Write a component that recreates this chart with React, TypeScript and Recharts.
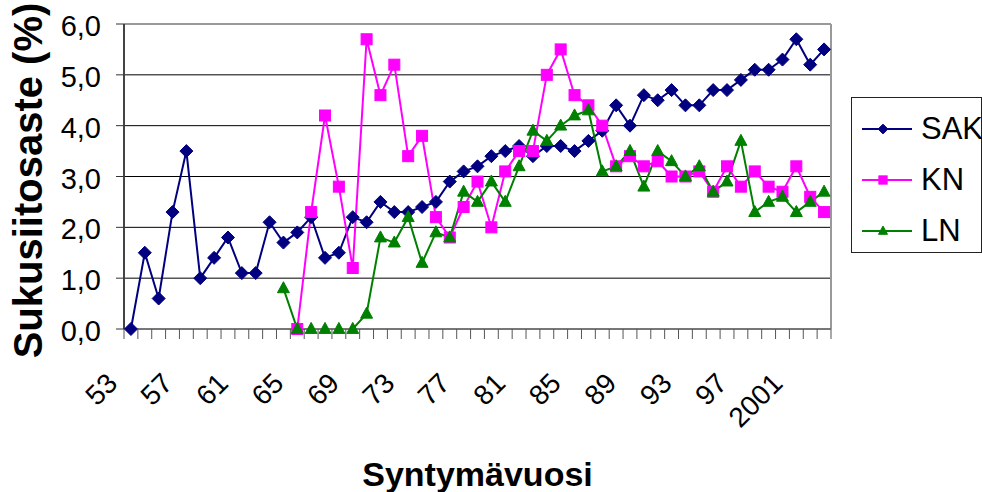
import React from 'react';
import { LineChart, Line, XAxis, YAxis, CartesianGrid } from 'recharts';

const YEARS = [
  '53', '54', '55', '56', '57', '58', '59', '60', '61', '62', '63', '64', '65', '66', '67', '68', '69',
  '70', '71', '72', '73', '74', '75', '76', '77', '78', '79', '80', '81', '82', '83', '84', '85', '86',
  '87', '88', '89', '90', '91', '92', '93', '94', '95', '96', '97', '98', '99', '2000', '2001', '2002', '2003',
];
const X_LABELS = ['53', '57', '61', '65', '69', '73', '77', '81', '85', '89', '93', '97', '2001'];
const Y_TICKS = [0, 1, 2, 3, 4, 5, 6];

const SAK = [
  0.0, 1.5, 0.6, 2.3, 3.5, 1.0, 1.4, 1.8, 1.1, 1.1, 2.1, 1.7, 1.9, 2.2, 1.4, 1.5, 2.2,
  2.1, 2.5, 2.3, 2.3, 2.4, 2.5, 2.9, 3.1, 3.2, 3.4, 3.5, 3.6, 3.4, 3.6, 3.6, 3.5, 3.7,
  3.9, 4.4, 4.0, 4.6, 4.5, 4.7, 4.4, 4.4, 4.7, 4.7, 4.9, 5.1, 5.1, 5.3, 5.7, 5.2, 5.5,
];
const KN = [
  null, null, null, null, null, null, null, null, null, null, null, null,
  0.0, 2.3, 4.2, 2.8, 1.2, 5.7, 4.6, 5.2, 3.4, 3.8, 2.2, 1.8, 2.4, 2.9, 2.0, 3.1, 3.5,
  3.5, 5.0, 5.5, 4.6, 4.4, 4.0, 3.2, 3.4, 3.2, 3.3, 3.0, 3.0, 3.1, 2.7, 3.2, 2.8, 3.1,
  2.8, 2.7, 3.2, 2.6, 2.3,
];
const LN = [
  null, null, null, null, null, null, null, null, null, null, null,
  0.8, 0.0, 0.0, 0.0, 0.0, 0.0, 0.3, 1.8, 1.7, 2.2, 1.3, 1.9, 1.8, 2.7, 2.5, 2.9, 2.5,
  3.2, 3.9, 3.7, 4.0, 4.2, 4.3, 3.1, 3.2, 3.5, 2.8, 3.5, 3.3, 3.0, 3.2, 2.7, 2.9, 3.7,
  2.3, 2.5, 2.6, 2.3, 2.5, 2.7,
];

const SERIES = [
  { key: 'SAK', color: '#000080', shape: 'diamond' },
  { key: 'KN', color: '#FF00FF', shape: 'square' },
  { key: 'LN', color: '#008000', shape: 'triangle' },
];

const data = YEARS.map((year, i) => ({ year, SAK: SAK[i], KN: KN[i], LN: LN[i] }));

const W = 982;
const H = 492;
const M = { top: 24, right: 151, bottom: 0, left: 0 };
const Y_AXIS_W = 124;
const X_AXIS_H = 163;
const PLOT_W = W - M.right - Y_AXIS_W;
const BAND = PLOT_W / YEARS.length;
const FONT = '"Liberation Sans", Arial, sans-serif';

const Marker = ({ cx, cy, shape, color, s = 1 }: any) => {
  if (cx == null || cy == null) return <g />;
  if (shape === 'diamond') {
    const r = 6.5 * s;
    return <polygon points={`${cx},${cy - r} ${cx + r},${cy} ${cx},${cy + r} ${cx - r},${cy}`} fill={color} stroke={color} strokeWidth={1} />;
  }
  if (shape === 'square') {
    const r = 5.5 * s;
    return <rect x={cx - r} y={cy - r} width={2 * r} height={2 * r} fill={color} stroke={color} strokeWidth={1} />;
  }
  const w = 6 * s;
  const h = 11 * s;
  return <polygon points={`${cx},${cy - h * 0.6} ${cx + w},${cy + h * 0.4} ${cx - w},${cy + h * 0.4}`} fill={color} stroke={color} strokeWidth={1} />;
};

const XTick = (props: any) => {
  const { x, y, payload } = props;
  const idx = props.index ?? payload.index;
  const half = BAND / 2;
  const show = X_LABELS.includes(payload.value);
  const ax = x - 12;
  const ay = y + 56;
  return (
    <g>
      {idx === 0 && <line x1={x - half} y1={y} x2={x - half} y2={y + 10} stroke="#555" strokeWidth={1} />}
      <line x1={x + half} y1={y} x2={x + half} y2={y + 10} stroke="#555" strokeWidth={1} />
      {show && (
        <text x={ax} y={ay} textAnchor="end" transform={`rotate(-45, ${ax}, ${ay})`} fontSize={28} fontFamily={FONT} fill="#000">
          {payload.value}
        </text>
      )}
    </g>
  );
};

const YTick = (props: any) => {
  const { x, y, payload } = props;
  return (
    <text x={x} y={y + 12} textAnchor="end" fontSize={29} fontFamily={FONT} fill="#000">
      {Number(payload.value).toFixed(1).replace('.', ',')}
    </text>
  );
};

const Legend = () => (
  <div
    style={{
      position: 'absolute', left: 851, top: 97, width: 131, height: 156, boxSizing: 'border-box',
      border: '1px solid #222', background: '#fff', fontFamily: FONT,
    }}
  >
    {SERIES.map((s, i) => (
      <div key={s.key} style={{ position: 'absolute', left: 9, top: 13 + i * 51, height: 36, display: 'flex', alignItems: 'center' }}>
        <svg width={52} height={20}>
          <line x1={1} y1={10} x2={51} y2={10} stroke={s.color} strokeWidth={2} />
          <Marker cx={22} cy={10} shape={s.shape} color={s.color} s={0.75} />
        </svg>
        <span style={{ fontSize: 31, marginLeft: 8, lineHeight: '36px', color: '#000' }}>{s.key}</span>
      </div>
    ))}
  </div>
);

export default function App() {
  return (
    <div style={{ position: 'absolute', left: 0, top: 0, width: W, height: H, background: '#fff' }}>
      <LineChart width={W} height={H} data={data} margin={M}>
        <CartesianGrid vertical={false} stroke="#000" strokeWidth={1} />
        <CartesianGrid
          stroke="#999"
          strokeWidth={2}
          horizontalCoordinatesGenerator={({ offset }: any) => [offset.top]}
          verticalCoordinatesGenerator={({ offset }: any) => [offset.left + offset.width]}
        />
        <XAxis
          dataKey="year"
          interval={0}
          height={X_AXIS_H}
          padding={{ left: BAND / 2, right: BAND / 2 }}
          tickLine={false}
          tickSize={0}
          tickMargin={0}
          tick={<XTick />}
          axisLine={{ stroke: '#777', strokeWidth: 2 }}
          label={{
            value: 'Syntymävuosi', position: 'insideBottom', offset: 6,
            style: { fontSize: 34, fontWeight: 'bold', fontFamily: FONT, fill: '#000' },
          }}
        />
        <YAxis
          width={Y_AXIS_W}
          domain={[0, 6]}
          ticks={Y_TICKS}
          interval={0}
          tick={<YTick />}
          tickSize={8}
          tickMargin={15}
          tickLine={{ stroke: '#333' }}
          axisLine={{ stroke: '#444', strokeWidth: 2 }}
          label={{
            value: 'Sukusiitosaste (%)',
            content: ({ viewBox }: any) => {
              const tx = viewBox.x + 42;
              const ty = viewBox.y + viewBox.height / 2 + 4;
              return (
                <text x={tx} y={ty} textAnchor="middle" transform={`rotate(-90, ${tx}, ${ty})`} fontSize={40} fontWeight="bold" fontFamily={FONT} fill="#000">
                  Sukusiitosaste (%)
                </text>
              );
            },
          }}
        />
        {SERIES.map((s) => (
          <Line
            key={s.key}
            type="linear"
            dataKey={s.key}
            stroke={s.color}
            strokeWidth={2}
            isAnimationActive={false}
            connectNulls={false}
            dot={(p: any) => <Marker key={`${s.key}-${p.index}`} cx={p.cx} cy={p.cy} shape={s.shape} color={s.color} />}
            activeDot={false}
          />
        ))}
      </LineChart>
      <Legend />
    </div>
  );
}
